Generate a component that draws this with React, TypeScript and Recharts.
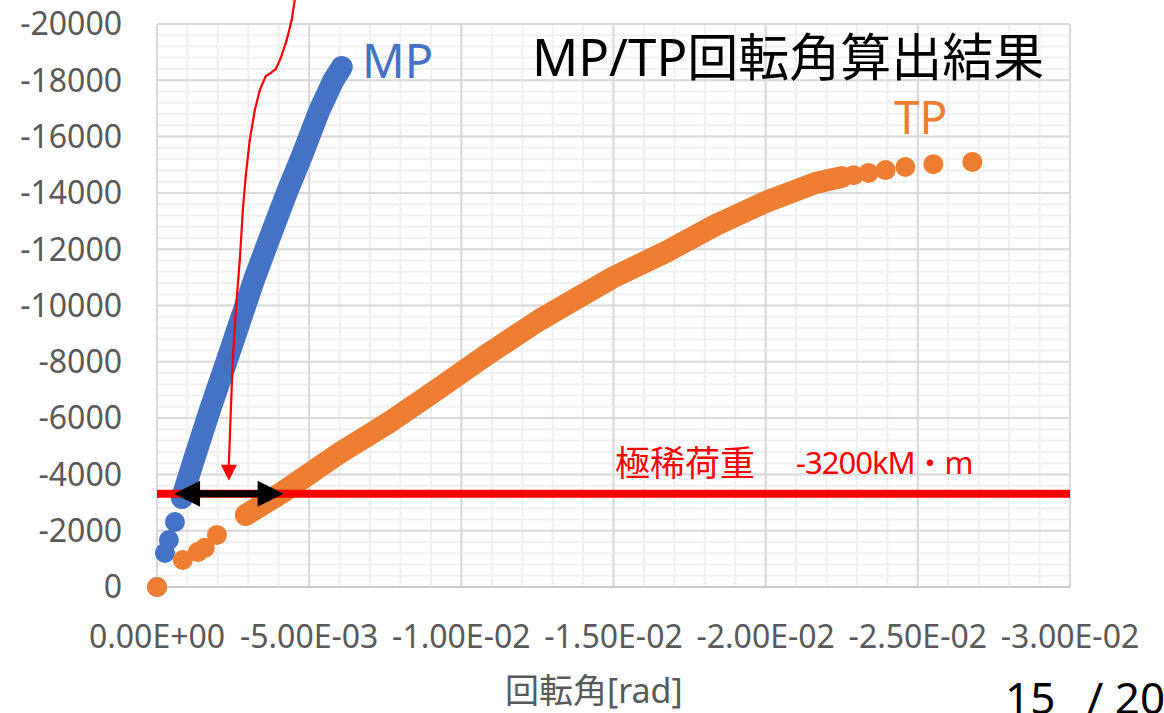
import {
    ScatterChart,
    Scatter,
    XAxis,
    YAxis,
    CartesianGrid,
    ReferenceLine,
} from "recharts";

// axis ticks (x is rotation angle in rad, y is moment; both run negative)
const xTicks = [0, -0.005, -0.01, -0.015, -0.02, -0.025, -0.03];
const yTicks = [
    0, -2000, -4000, -6000, -8000, -10000, -12000, -14000, -16000, -18000, -20000,
];

// minor grid every 0.001 rad / 400
const xMinor = Array.from({ length: 31 }, (_, i) => -i * 0.001);
const yMinor = Array.from({ length: 51 }, (_, i) => -i * 400);

// MP: first few isolated points, then the dense band
const mpStart = [
    { x: 0, y: 0 },
    { x: -0.00026, y: -1210 },
    { x: -0.00039, y: -1670 },
    { x: -0.00059, y: -2310 },
];
const mpBand = [
    { x: -0.00082, y: -3160 },
    { x: -0.00121, y: -4510 },
    { x: -0.00174, y: -6290 },
    { x: -0.0023, y: -8060 },
    { x: -0.00274, y: -9480 },
    { x: -0.00322, y: -11010 },
    { x: -0.00376, y: -12570 },
    { x: -0.00426, y: -13990 },
    { x: -0.0048, y: -15420 },
    { x: -0.00534, y: -16940 },
    { x: -0.0058, y: -18010 },
    { x: -0.00607, y: -18470 },
];

// TP: isolated start points, dense band, sparse tail
const tpStart = [
    { x: 0, y: 0 },
    { x: -0.00085, y: -960 },
    { x: -0.00134, y: -1240 },
    { x: -0.00157, y: -1390 },
    { x: -0.00197, y: -1850 },
];
const tpBand = [
    { x: -0.00292, y: -2560 },
    { x: -0.00413, y: -3370 },
    { x: -0.006, y: -4760 },
    { x: -0.00764, y: -5860 },
    { x: -0.00928, y: -7070 },
    { x: -0.01092, y: -8310 },
    { x: -0.01256, y: -9480 },
    { x: -0.01495, y: -10980 },
    { x: -0.01672, y: -11900 },
    { x: -0.01836, y: -12860 },
    { x: -0.02, y: -13680 },
    { x: -0.02164, y: -14350 },
    { x: -0.02249, y: -14560 },
];
const tpTail = [
    { x: -0.02289, y: -14630 },
    { x: -0.02338, y: -14710 },
    { x: -0.02394, y: -14810 },
    { x: -0.02459, y: -14920 },
    { x: -0.02551, y: -15020 },
    { x: -0.02679, y: -15100 },
];

// 極稀荷重 level line and the gap arrow between MP and TP
const rareLoad = -3310;
const gapArrow = [
    { x: -0.00056, y: rareLoad },
    { x: -0.00416, y: rareLoad },
];

// hand-drawn red pointer, top to arrow tip
const pointerCurve = [
    { x: -0.004525, y: -20850 },
    { x: -0.004426, y: -20140 },
    { x: -0.004262, y: -19430 },
    { x: -0.004066, y: -18790 },
    { x: -0.003902, y: -18400 },
    { x: -0.003738, y: -18260 },
    { x: -0.003574, y: -18150 },
    { x: -0.003377, y: -17650 },
    { x: -0.003213, y: -16940 },
    { x: -0.003049, y: -15880 },
    { x: -0.002918, y: -14630 },
    { x: -0.00282, y: -13390 },
    { x: -0.002721, y: -11620 },
    { x: -0.00259, y: -9840 },
    { x: -0.002492, y: -8070 },
    { x: -0.002426, y: -6290 },
    { x: -0.002361, y: -3770 },
];

const BLUE = "#4472C4";
const ORANGE = "#ED7D31";
const RED = "#FF0000";
const GRAY_TEXT = "#595959";
const FONT = '"Noto Sans", "Noto Sans CJK JP", sans-serif';

const fmtExp = (v: number) => {
    const [m, e] = v.toExponential(2).split("e");
    const sign = e[0] === "-" ? "-" : "+";
    const digits = e.replace(/[+-]/, "").padStart(2, "0");
    return `${m}E${sign}${digits}`;
};

const dot = (color: string) => (p: any) =>
    <circle cx={p.cx} cy={p.cy} r={10} fill={color} />;

const segShape = (p: any) => (
    <line
        x1={p.x1}
        y1={p.y1}
        x2={p.x2}
        y2={p.y2}
        stroke={RED}
        strokeWidth={2.2}
        strokeLinecap="round"
    />
);

const arrowTipShape = (p: any) => {
    const baseY = p.y2 - 16;
    return (
        <g>
            <line x1={p.x1} y1={p.y1} x2={p.x2} y2={baseY} stroke={RED} strokeWidth={2.2} />
            <polygon
                points={`${p.x2},${p.y2} ${p.x2 - 8},${baseY} ${p.x2 + 8},${baseY}`}
                fill={RED}
            />
        </g>
    );
};

const doubleArrowShape = (p: any) => {
    const l = Math.min(p.x1, p.x2);
    const r = Math.max(p.x1, p.x2);
    const y = p.y1;
    return (
        <g>
            <line x1={l + 20} y1={y} x2={r - 20} y2={y} stroke="#000" strokeWidth={7} />
            <polygon points={`${l},${y} ${l + 26},${y - 13} ${l + 26},${y + 13}`} fill="#000" />
            <polygon points={`${r},${y} ${r - 26},${y - 13} ${r - 26},${y + 13}`} fill="#000" />
        </g>
    );
};

const bandLine = (color: string) => ({
    stroke: color,
    strokeWidth: 22,
    strokeLinecap: "round",
    strokeLinejoin: "round",
});

export default function App() {
    const last = pointerCurve.length - 2;
    return (
        <div
            style={{
                position: "absolute",
                left: 0,
                top: 0,
                width: 1164,
                height: 713,
                overflow: "hidden",
                background: "#fff",
                fontFamily: FONT,
            }}
        >
            <ScatterChart
                width={1164}
                height={713}
                margin={{ top: 24, right: 94, bottom: 0, left: 0 }}
            >
                <CartesianGrid
                    stroke="#f0f0f0"
                    strokeWidth={2}
                    horizontalValues={yMinor}
                    verticalValues={xMinor}
                />
                <CartesianGrid
                    stroke="#d9d9d9"
                    strokeWidth={2}
                    horizontalValues={yTicks}
                    verticalValues={xTicks}
                />
                <XAxis
                    type="number"
                    dataKey="x"
                    domain={[-0.03, 0]}
                    reversed
                    ticks={xTicks}
                    interval={0}
                    height={126}
                    tickSize={0}
                    tickMargin={38}
                    tickLine={false}
                    tickFormatter={fmtExp}
                    axisLine={{ stroke: "#c9c9c9", strokeWidth: 2 }}
                    tick={{ fill: GRAY_TEXT, fontSize: 32, fontFamily: FONT }}
                />
                <YAxis
                    type="number"
                    dataKey="y"
                    domain={[-20000, 0]}
                    reversed
                    ticks={yTicks}
                    interval={0}
                    width={157}
                    tickSize={0}
                    tickMargin={35}
                    tickLine={false}
                    axisLine={{ stroke: "#d9d9d9", strokeWidth: 2 }}
                    tick={{ fill: GRAY_TEXT, fontSize: 32, fontFamily: FONT }}
                />
                <Scatter data={mpStart} shape={dot(BLUE)} isAnimationActive={false} />
                <Scatter
                    data={mpBand}
                    shape={dot(BLUE)}
                    line={bandLine(BLUE)}
                    isAnimationActive={false}
                />
                <Scatter data={tpStart} shape={dot(ORANGE)} isAnimationActive={false} />
                <Scatter
                    data={tpBand}
                    shape={dot(ORANGE)}
                    line={bandLine(ORANGE)}
                    isAnimationActive={false}
                />
                <Scatter data={tpTail} shape={dot(ORANGE)} isAnimationActive={false} />
                <ReferenceLine y={rareLoad} stroke={RED} strokeWidth={8} zIndex={700} />
                <ReferenceLine
                    segment={gapArrow}
                    ifOverflow="visible"
                    shape={doubleArrowShape}
                    zIndex={710}
                />
                {pointerCurve.slice(1).map((p, i) => (
                    <ReferenceLine
                        key={i}
                        segment={[pointerCurve[i], p]}
                        ifOverflow="visible"
                        shape={i === last ? arrowTipShape : segShape}
                        zIndex={720}
                    />
                ))}
            </ScatterChart>

            {/* Title and series labels */}
            <div style={{ position: "absolute", left: 532, top: 31, fontSize: 51, lineHeight: 1, color: "#000", whiteSpace: "nowrap" }}>
                MP/TP回転角算出結果
            </div>
            <div style={{ position: "absolute", left: 362, top: 37, fontSize: 47, lineHeight: 1, color: BLUE }}>
                MP
            </div>
            <div style={{ position: "absolute", left: 894, top: 93, fontSize: 46, lineHeight: 1, color: ORANGE }}>
                TP
            </div>
            {/* 極稀荷重 label */}
            <div style={{ position: "absolute", left: 615, top: 445, fontSize: 35, lineHeight: 1, color: RED, whiteSpace: "nowrap" }}>
                極稀荷重
            </div>
            <div style={{ position: "absolute", left: 796, top: 447, fontSize: 31, lineHeight: 1, letterSpacing: -1, color: RED, whiteSpace: "nowrap" }}>
                -3200kM・m
            </div>
            <div style={{ position: "absolute", left: 505, top: 673, fontSize: 34, lineHeight: 1, color: GRAY_TEXT, whiteSpace: "nowrap" }}>
                回転角[rad]
            </div>
            {/* slide page number */}
            <div style={{ position: "absolute", left: 1005, top: 675, fontSize: 44, lineHeight: 1, color: "#000", whiteSpace: "nowrap" }}>
                15
            </div>
            <div style={{ position: "absolute", left: 1087, top: 675, fontSize: 44, lineHeight: 1, color: "#000", whiteSpace: "nowrap" }}>
                / 20
            </div>
        </div>
    );
}
